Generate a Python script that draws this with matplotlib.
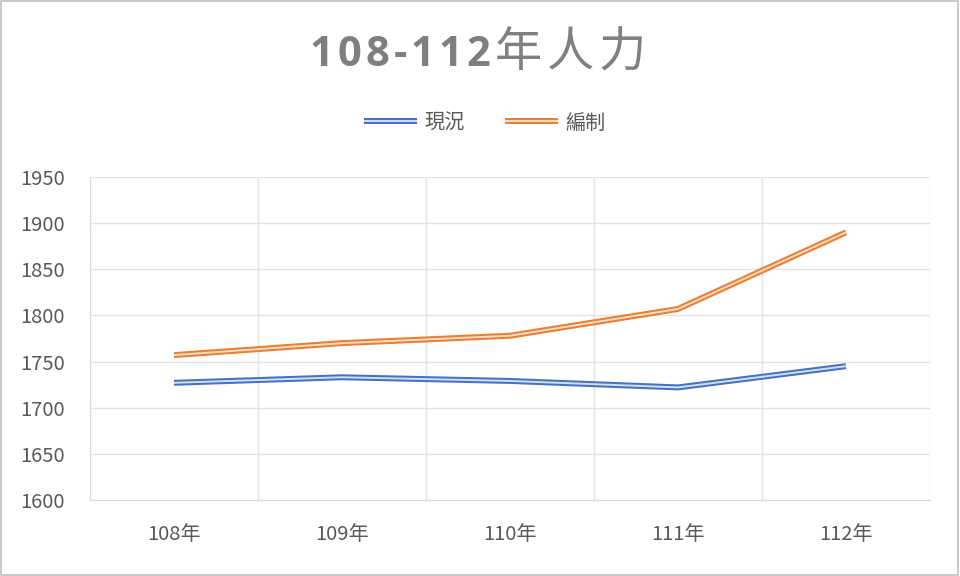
import matplotlib
matplotlib.use("Agg")
import matplotlib.pyplot as plt
from matplotlib.lines import Line2D
from matplotlib.legend_handler import HandlerTuple
from matplotlib.patches import Rectangle

plt.rcParams['font.family'] = ['Noto Sans CJK TC', 'DejaVu Sans']

title_num = "108-112"
title_cjk = "年人力"
categories = ["108年", "109年", "110年", "111年", "112年"]
current = [1727, 1733, 1729, 1722, 1745]
establishment = [1757, 1770, 1778, 1807, 1890]
series_names = ["現況", "編制"]
yticks = [1600, 1650, 1700, 1750, 1800, 1850, 1900, 1950]

W, H = 960, 576
fig = plt.figure(figsize=(9.6, 5.76), dpi=100)
ax = fig.add_axes([90/W, 1-500/H, 840/W, 323/H])

x = list(range(len(categories)))
styles = [("#4472C4", "#D3DFF5"), ("#ED7D31", "#FCDCC4")]
handles = []
for vals, (dark, light) in zip([current, establishment], styles):
    ax.plot(x, vals, color=dark, lw=4.3, solid_joinstyle='miter', solid_capstyle='butt', zorder=3)
    ax.plot(x, vals, color=light, lw=1.4, solid_joinstyle='miter', solid_capstyle='butt', zorder=4)
    handles.append((Line2D([], [], color=dark, lw=4.3, solid_capstyle='butt'),
                    Line2D([], [], color=light, lw=1.4, solid_capstyle='butt')))

ax.set_xlim(-0.5, len(categories) - 0.5)
ax.set_ylim(1600, 1950)
ax.set_yticks(yticks)
ax.set_xticks(x)
ax.set_xticklabels(categories)
ax.set_xticks([i + 0.5 for i in range(-1, len(categories))], minor=True)
ax.grid(True, which='major', axis='y', color='#E3E3E3', lw=1)
ax.grid(True, which='minor', axis='x', color='#E3E3E3', lw=1)
ax.tick_params(axis='both', which='both', length=0, colors='#595959', labelsize=14.5)
ax.tick_params(axis='x', pad=17)
ax.tick_params(axis='y', pad=18)
for s in ['top', 'right']:
    ax.spines[s].set_visible(False)
for s in ['left', 'bottom']:
    ax.spines[s].set_color('#D9D9D9')

# Title: bold digits, regular CJK characters, letter-spaced
renderer = fig.canvas.get_renderer()
pieces = []
for ch in title_num:
    t = fig.text(0, 0, ch, fontsize=30, fontweight='bold', color='#7F7F7F',
                 family=['Open Sans', 'DejaVu Sans'], va='baseline', ha='left')
    pieces.append((t, 4))
for ch in title_cjk:
    t = fig.text(0, 0, ch, fontsize=34, fontweight='normal', color='#808080',
                 family=['Noto Sans CJK TC', 'DejaVu Sans'], va='baseline', ha='left')
    pieces.append((t, 5))
widths = [t.get_window_extent(renderer).width for t, _ in pieces]
total = sum(w + sp for w, (_, sp) in zip(widths, pieces)) - pieces[-1][1]
cx = 478 - total / 2
base_y = 1 - 66 / H
for w, (t, sp) in zip(widths, pieces):
    t.set_position((cx / W, base_y))
    cx += w + sp

fig.legend(handles, series_names, handler_map={tuple: HandlerTuple(ndivide=1)},
           loc='center', bbox_to_anchor=(485/W, 1-123/H), ncol=2, frameon=False,
           fontsize=14.5, labelcolor='#595959', handlelength=2.6, columnspacing=2.0,
           handletextpad=0.4)

fig.patches.append(Rectangle((0.001, 0.001), 0.997, 0.997, transform=fig.transFigure,
                             fill=False, edgecolor='#BFBFBF', lw=1.2))

fig.savefig("out.png", dpi=100)
